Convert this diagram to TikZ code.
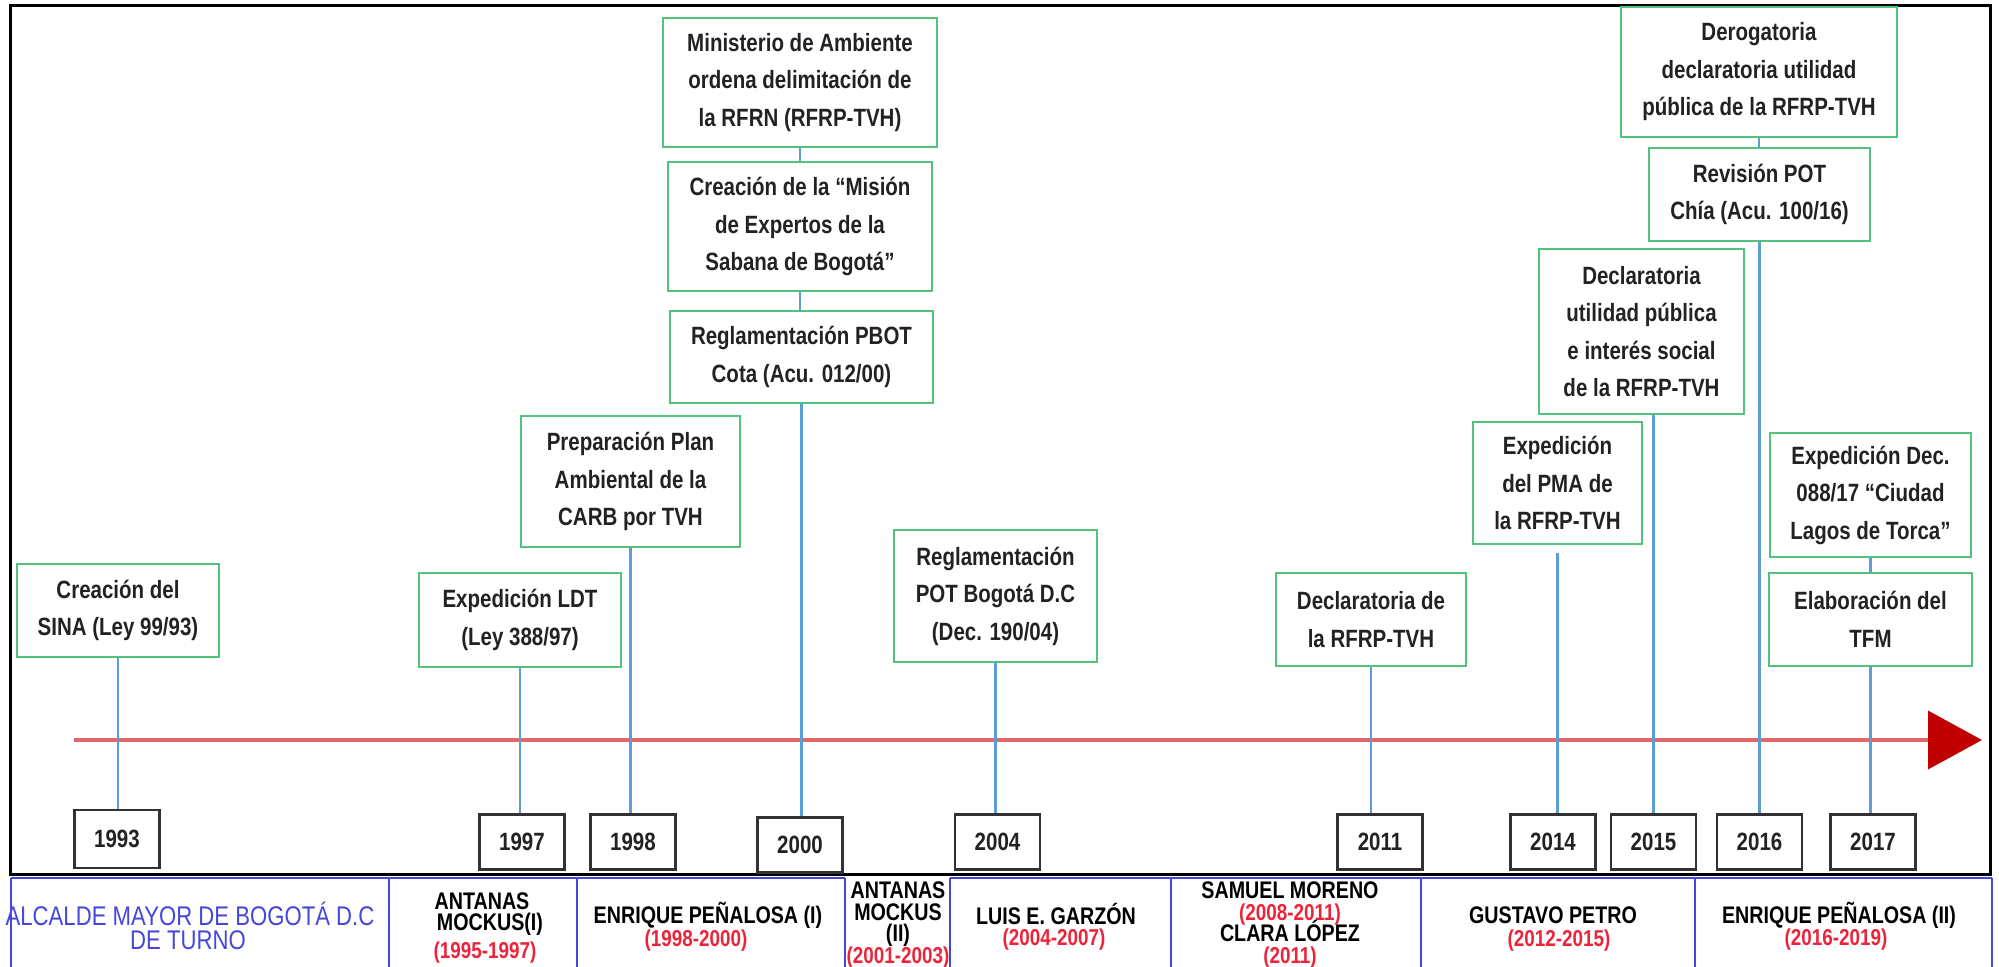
\documentclass[tikz,border=0pt]{standalone}
\usepackage{fontspec}
\setmainfont{Liberation Sans}[FakeStretch=0.82]
\usetikzlibrary{arrows.meta}
\definecolor{evgreen}{RGB}{82,194,124}
\definecolor{evtext}{RGB}{34,34,34}
\definecolor{lnblue}{RGB}{91,157,215}
\definecolor{tlred}{RGB}{226,104,104}
\definecolor{arrred}{RGB}{192,0,0}
\definecolor{tblblue}{RGB}{70,70,218}
\definecolor{yrred}{RGB}{236,36,58}
\definecolor{yrgray}{RGB}{50,50,50}
\newcommand\mytightlines{\lineskiplimit-50pt\relax\lineskip0pt\relax}
\begin{document}
\begin{tikzpicture}[x=0.5pt,y=-0.5pt,
  evt/.style={draw=evgreen, line width=1.4pt, fill=white, align=center, inner sep=0pt, text=evtext, font=\bfseries\fontsize{12.5}{18.75}\selectfont},
  yr/.style={draw=yrgray, line width=1.3pt, fill=white, minimum width=42.5pt, minimum height=27.5pt, inner sep=0pt, text=evtext, font=\bfseries\fontsize{12.5}{15}\selectfont},
  conn/.style={draw=lnblue, line width=1.3pt},
  tl/.style={draw=tlred, line width=2pt},
  tbl/.style={draw=tblblue, line width=1pt},
  nm/.style={inner sep=0pt, text=black, font=\bfseries\fontsize{12}{12}\selectfont},
  yrs/.style={inner sep=0pt, text=yrred, font=\bfseries\fontsize{11.5}{11.5}\selectfont},
  stack/.style={inner sep=0pt, text=black, align=center, font=\bfseries\fontsize{12}{10.8}\selectfont\mytightlines},
  hd/.style={inner sep=0pt, text=tblblue, font=\fontsize{13.5}{13.5}\selectfont}
]
\useasboundingbox (0,0) rectangle (1999,966);
% frame
\draw[line width=1.5pt] (10,5) rectangle (1990,874);

% event boxes
\node[evt, minimum width=137pt, minimum height=64.5pt] (minis) at (800,82.5) {Ministerio de Ambiente\\ordena delimitación de\\la RFRN (RFRP-TVH)};
\node[evt, minimum width=132pt, minimum height=64.5pt] (mision) at (800,226.5) {Creación de la “Misión\\de Expertos de la\\Sabana de Bogotá”};
\node[evt, minimum width=131.5pt, minimum height=46pt] (pbot) at (801.5,357) {Reglamentación PBOT\\Cota (Acu. 012/00)};
\node[evt, minimum width=109.5pt, minimum height=65.5pt] (carb) at (630.5,481.5) {Preparación Plan\\Ambiental de la\\CARB por TVH};
\node[evt, minimum width=101pt, minimum height=46.5pt] (sina) at (118,610.5) {Creación del\\SINA (Ley 99/93)};
\node[evt, minimum width=101pt, minimum height=47pt] (ldt) at (520,620) {Expedición LDT\\(Ley 388/97)};
\node[evt, minimum width=101.5pt, minimum height=66pt] (potbog) at (995.5,596) {Reglamentación\\POT Bogotá D.C\\(Dec. 190/04)};
\node[evt, minimum width=95pt, minimum height=46.5pt] (decl) at (1371,619.5) {Declaratoria de\\la RFRP-TVH};
\node[evt, minimum width=84.5pt, minimum height=61pt] (pma) at (1557.5,483) {Expedición\\del PMA de\\la RFRP-TVH};
\node[evt, minimum width=102.5pt, minimum height=82.5pt] (dup) at (1641.5,331.5) {Declaratoria\\utilidad pública\\e interés social\\de la RFRP-TVH};
\node[evt, minimum width=110.5pt, minimum height=46.5pt] (revpot) at (1759.5,194.5) {Revisión POT\\Chía (Acu. 100/16)};
\node[evt, minimum width=138pt, minimum height=65pt] (derog) at (1759,72) {Derogatoria\\declaratoria utilidad\\pública de la RFRP-TVH};
\node[evt, minimum width=100.5pt, minimum height=62pt] (torca) at (1870.5,495) {Expedición Dec.\\088/17 “Ciudad\\Lagos de Torca”};
\node[evt, minimum width=101.5pt, minimum height=46.5pt] (tfm) at (1870.5,619.5) {Elaboración del\\TFM};

% year boxes
\node[yr, minimum height=29pt] (y1993) at (117,839) {1993};
\node[yr] (y1997) at (522,842) {1997};
\node[yr] (y1998) at (633,842) {1998};
\node[yr] (y2000) at (800,845) {2000};
\node[yr] (y2004) at (997.5,842) {2004};
\node[yr] (y2011) at (1380,842) {2011};
\node[yr] (y2014) at (1553,842) {2014};
\node[yr] (y2015) at (1653.5,842) {2015};
\node[yr] (y2016) at (1759.5,842) {2016};
\node[yr] (y2017) at (1873,842) {2017};

% timeline
\coordinate (tls) at (74,740);
\coordinate (tle) at (1982,740);
\draw[tl, -{Triangle[length=27pt,width=29pt,color=arrred]}] (tls) -- (tle);

% connectors
\draw[conn] (sina.south) -- (sina.south |- y1993.north);
\draw[conn] (ldt.south) -- (ldt.south |- y1997.north);
\draw[conn] (carb.south) -- (carb.south |- y1998.north);
\draw[conn] (minis.south) -- (minis.south |- mision.north);
\draw[conn] (mision.south) -- (mision.south |- pbot.north);
\draw[conn] (pbot.south) -- (pbot.south |- y2000.north);
\draw[conn] (potbog.south) -- (potbog.south |- y2004.north);
\draw[conn] (decl.south) -- (decl.south |- y2011.north);
\draw[conn, shorten <=4pt] (pma.south) -- (pma.south |- y2014.north);
\draw[conn] (y2015.north |- dup.south) -- (y2015.north);
\draw[conn] (derog.south) -- (derog.south |- revpot.north);
\draw[conn] (revpot.south) -- (revpot.south |- y2016.north);
\draw[conn] (torca.south) -- (torca.south |- tfm.north);
\draw[conn] (tfm.south) -- (tfm.south |- y2017.north);

% table
\draw[tbl] (11,878) -- (845,878) (950,878) -- (1992,878);
\foreach \x in {11,389,577,845,950,1171,1421,1695,1992} \draw[tbl] (\x,878) -- (\x,970);

\node[hd] (h1) at (190,914) {ALCALDE MAYOR DE BOGOTÁ D.C};
\node[hd] (h2) at (188,940) {DE TURNO};
\node[nm] (m1a) at (482,901) {ANTANAS};
\node[nm] (m1b) at (490,924) {MOCKUS(I)};
\node[yrs] (m1c) at (485,953) {(1995-1997)};
\node[nm] (p1a) at (708,915) {ENRIQUE PEÑALOSA (I)};
\node[yrs] (p1b) at (696,941) {(1998-2000)};
\node[stack] (m2) at (898,925) {ANTANAS\\MOCKUS\\(II)\\\textcolor{yrred}{\fontsize{11.5}{10.8}\selectfont(2001-2003)}};
\node[nm] (g1) at (1056,914) {LUIS E. GARZÓN};
\node[yrs] (g2) at (1054,940) {(2004-2007)};
\node[stack] (s1) at (1290,925) {SAMUEL MORENO\\\textcolor{yrred}{\fontsize{11.5}{10.8}\selectfont(2008-2011)}\\CLARA LÓPEZ\\\textcolor{yrred}{\fontsize{11.5}{10.8}\selectfont(2011)}};
\node[nm] (pe1) at (1553,915) {GUSTAVO PETRO};
\node[yrs] (pe2) at (1559,941) {(2012-2015)};
\node[nm] (p2a) at (1839,915) {ENRIQUE PEÑALOSA (II)};
\node[yrs] (p2b) at (1836,940) {(2016-2019)};
\end{tikzpicture}
\end{document}
